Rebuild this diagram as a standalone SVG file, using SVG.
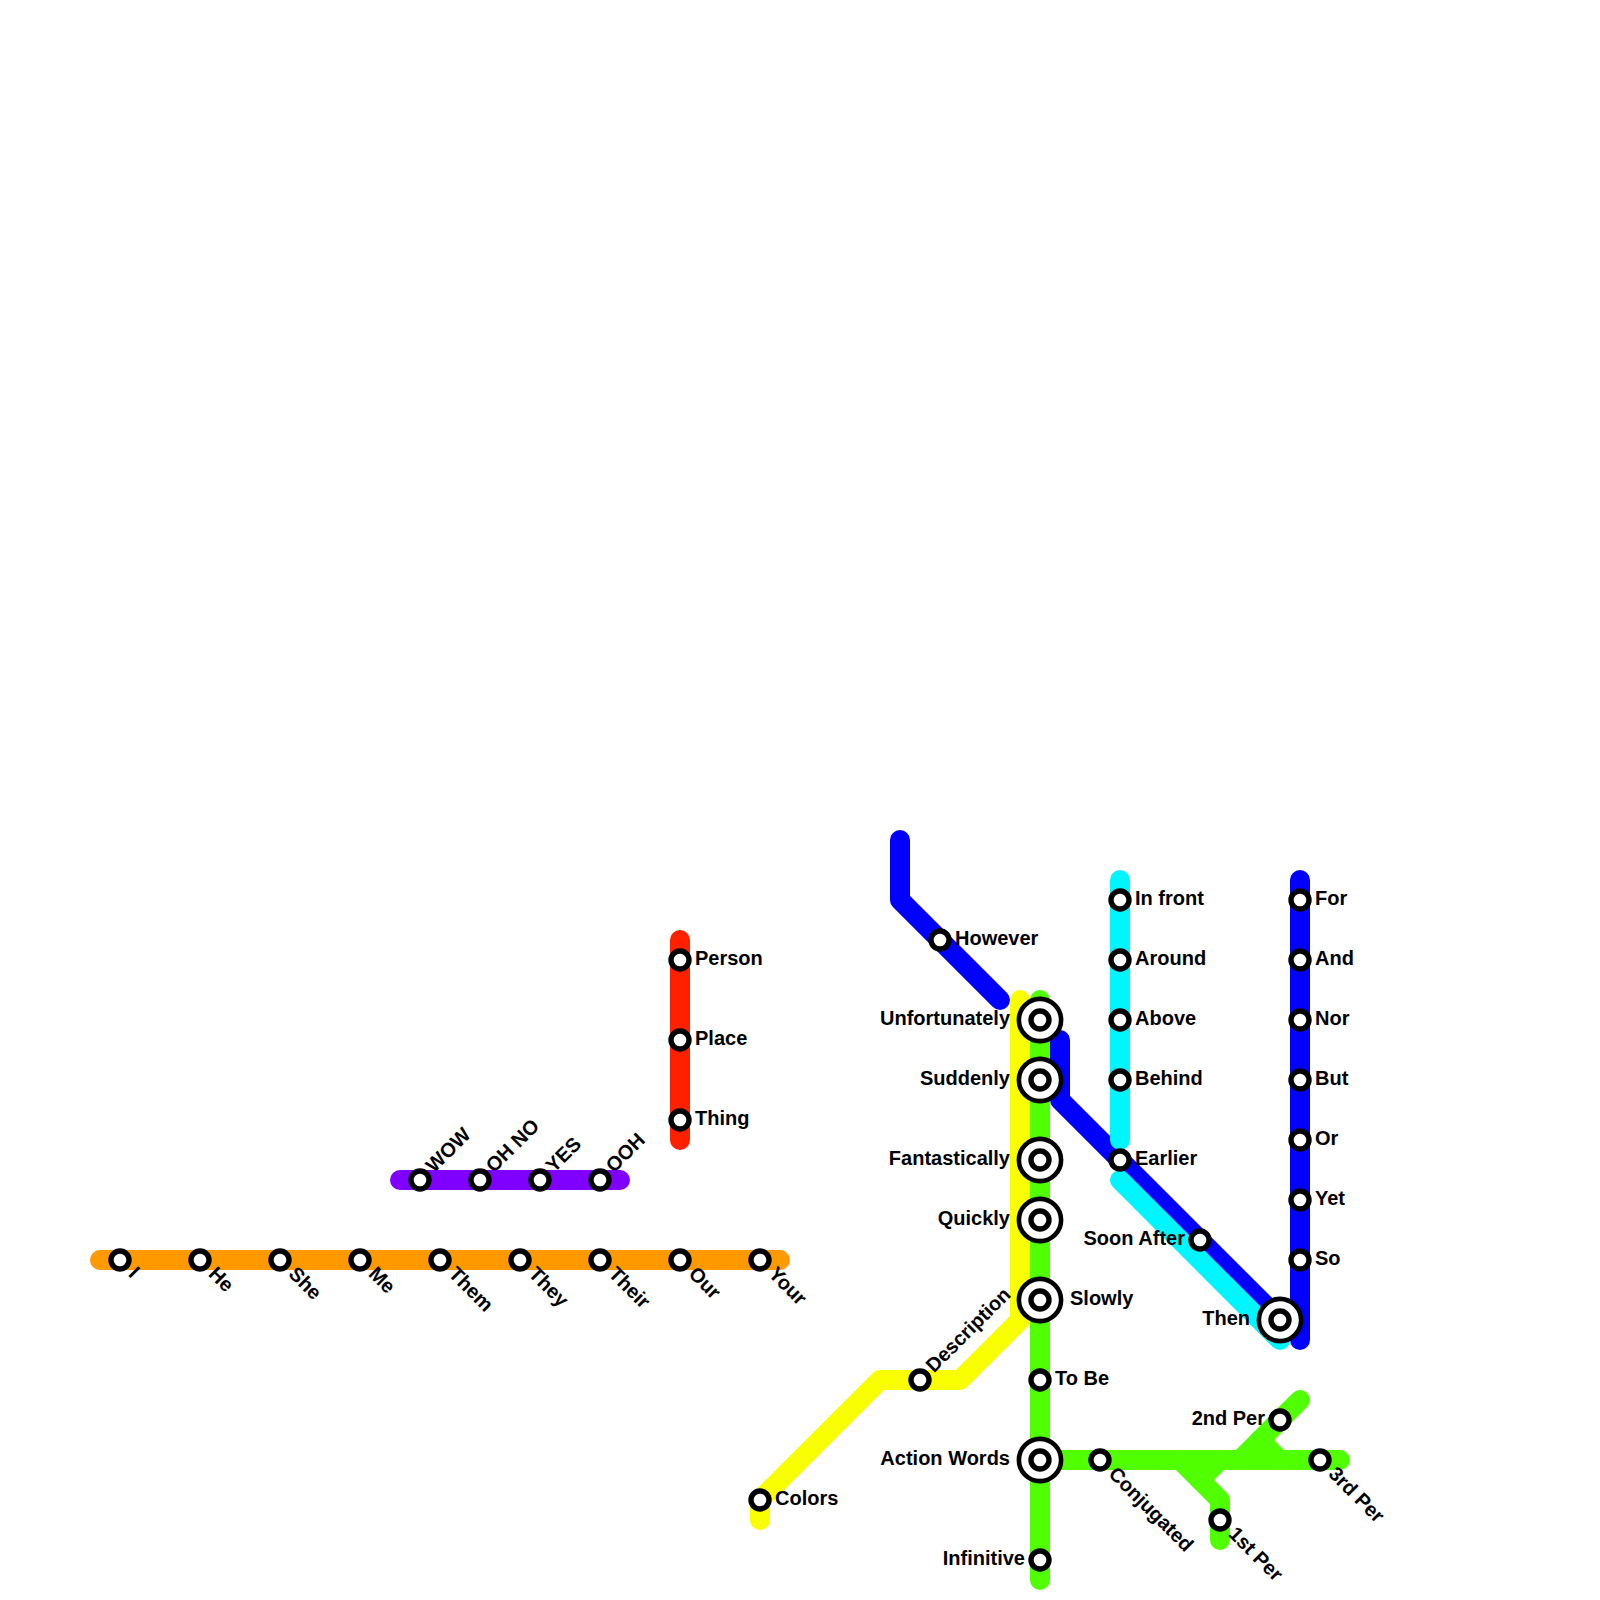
<svg xmlns="http://www.w3.org/2000/svg" width="1600" height="1600" viewBox="0 0 1600 1600">
<style>
.l{fill:none;stroke-width:20;stroke-linecap:round;stroke-linejoin:round}
.o{stroke:#ff9900}.p{stroke:#8000ff}.r{stroke:#ff2000}.b{stroke:#0000ff}.c{stroke:#00f6ff}.g{stroke:#50ff00}.y{stroke:#faff00}
.s{fill:#fff;stroke:#000;stroke-width:5.4}
.q{fill:#fff;stroke:#000;stroke-width:4.6}
.t{font-family:"Liberation Sans",Arial,sans-serif;font-size:20px;font-weight:bold;fill:#000}
.e{text-anchor:end}
</style>
<defs>
<g id="sm"><circle class="s" r="9"/></g>
<g id="bg"><circle class="q" r="21.1"/><circle class="s" r="9"/></g>
</defs>
<g id="connectors">
<path class="l o" d="M100 1260H780"/>
<path class="l p" d="M400 1180H620"/>
<path class="l r" d="M680 940V1140"/>
<path class="l b" d="M900 840V900L1000 1000"/>
<path class="l b" d="M1060 1040V1100L1280 1320"/>
<path class="l b" d="M1300 880V1340"/>
<path class="l c" d="M1120 880V1140"/>
<path class="l c" d="M1120 1180L1280 1340"/>
<path class="l y" d="M1020 1000V1320L960 1380H880L760 1500V1520"/>
<path class="l g" d="M1040 1000V1580"/>
<path class="l g" d="M1040 1460H1340"/>
<path class="l g" d="M1300 1400L1240 1460"/>
<path class="l g" d="M1260 1440L1280 1460"/>
<path class="l g" d="M1180 1460L1220 1500V1540"/>
<path class="l g" d="M1220 1460L1200 1480"/>
</g>
<g id="n-i"><use href="#sm" x="120" y="1260"/><text class="t" transform="translate(131 1271.5) rotate(45) translate(0 5)">I</text></g>
<g id="n-he"><use href="#sm" x="200" y="1260"/><text class="t" transform="translate(211 1271.5) rotate(45) translate(0 5)">He</text></g>
<g id="n-she"><use href="#sm" x="280" y="1260"/><text class="t" transform="translate(291 1271.5) rotate(45) translate(0 5)">She</text></g>
<g id="n-me"><use href="#sm" x="360" y="1260"/><text class="t" transform="translate(371 1271.5) rotate(45) translate(0 5)">Me</text></g>
<g id="n-them"><use href="#sm" x="440" y="1260"/><text class="t" transform="translate(451 1271.5) rotate(45) translate(0 5)">Them</text></g>
<g id="n-they"><use href="#sm" x="520" y="1260"/><text class="t" transform="translate(531 1271.5) rotate(45) translate(0 5)">They</text></g>
<g id="n-their"><use href="#sm" x="600" y="1260"/><text class="t" transform="translate(611 1271.5) rotate(45) translate(0 5)">Their</text></g>
<g id="n-our"><use href="#sm" x="680" y="1260"/><text class="t" transform="translate(691 1271.5) rotate(45) translate(0 5)">Our</text></g>
<g id="n-your"><use href="#sm" x="760" y="1260"/><text class="t" transform="translate(771 1271.5) rotate(45) translate(0 5)">Your</text></g>
<g id="n-wow"><use href="#sm" x="420" y="1180"/><text class="t" transform="translate(430.5 1170) rotate(-45) translate(0 5)">WOW</text></g>
<g id="n-ohno"><use href="#sm" x="480" y="1180"/><text class="t" transform="translate(490.5 1170) rotate(-45) translate(0 5)">OH NO</text></g>
<g id="n-yes"><use href="#sm" x="540" y="1180"/><text class="t" transform="translate(550.5 1170) rotate(-45) translate(0 5)">YES</text></g>
<g id="n-ooh"><use href="#sm" x="600" y="1180"/><text class="t" transform="translate(610.5 1170) rotate(-45) translate(0 5)">OOH</text></g>
<g id="n-person"><use href="#sm" x="680" y="960"/><text class="t" x="695" y="965">Person</text></g>
<g id="n-place"><use href="#sm" x="680" y="1040"/><text class="t" x="695" y="1045">Place</text></g>
<g id="n-thing"><use href="#sm" x="680" y="1120"/><text class="t" x="695" y="1125">Thing</text></g>
<g id="n-however"><use href="#sm" x="940" y="940"/><text class="t" x="955" y="945">However</text></g>
<g id="n-infront"><use href="#sm" x="1120" y="900"/><text class="t" x="1135" y="905">In front</text></g>
<g id="n-around"><use href="#sm" x="1120" y="960"/><text class="t" x="1135" y="965">Around</text></g>
<g id="n-above"><use href="#sm" x="1120" y="1020"/><text class="t" x="1135" y="1025">Above</text></g>
<g id="n-behind"><use href="#sm" x="1120" y="1080"/><text class="t" x="1135" y="1085">Behind</text></g>
<g id="n-earlier"><use href="#sm" x="1120" y="1160"/><text class="t" x="1135" y="1165">Earlier</text></g>
<g id="n-soonafter"><use href="#sm" x="1200" y="1240"/><text class="t e" x="1185" y="1245">Soon After</text></g>
<g id="n-for"><use href="#sm" x="1300" y="900"/><text class="t" x="1315" y="905">For</text></g>
<g id="n-and"><use href="#sm" x="1300" y="960"/><text class="t" x="1315" y="965">And</text></g>
<g id="n-nor"><use href="#sm" x="1300" y="1020"/><text class="t" x="1315" y="1025">Nor</text></g>
<g id="n-but"><use href="#sm" x="1300" y="1080"/><text class="t" x="1315" y="1085">But</text></g>
<g id="n-or"><use href="#sm" x="1300" y="1140"/><text class="t" x="1315" y="1145">Or</text></g>
<g id="n-yet"><use href="#sm" x="1300" y="1200"/><text class="t" x="1315" y="1205">Yet</text></g>
<g id="n-so"><use href="#sm" x="1300" y="1260"/><text class="t" x="1315" y="1265">So</text></g>
<g id="n-then"><use href="#bg" x="1280" y="1320"/><text class="t e" x="1250" y="1325">Then</text></g>
<g id="n-unfortunately"><use href="#bg" x="1040" y="1020"/><text class="t e" x="1010" y="1025">Unfortunately</text></g>
<g id="n-suddenly"><use href="#bg" x="1040" y="1080"/><text class="t e" x="1010" y="1085">Suddenly</text></g>
<g id="n-fantastically"><use href="#bg" x="1040" y="1160"/><text class="t e" x="1010" y="1165">Fantastically</text></g>
<g id="n-quickly"><use href="#bg" x="1040" y="1220"/><text class="t e" x="1010" y="1225">Quickly</text></g>
<g id="n-slowly"><use href="#bg" x="1040" y="1300"/><text class="t" x="1070" y="1305">Slowly</text></g>
<g id="n-tobe"><use href="#sm" x="1040" y="1380"/><text class="t" x="1055" y="1385">To Be</text></g>
<g id="n-actionwords"><use href="#bg" x="1040" y="1460"/><text class="t e" x="1010" y="1465">Action Words</text></g>
<g id="n-infinitive"><use href="#sm" x="1040" y="1560"/><text class="t e" x="1025" y="1565">Infinitive</text></g>
<g id="n-description"><use href="#sm" x="920" y="1380"/><text class="t" transform="translate(930.5 1370) rotate(-45) translate(0 5)">Description</text></g>
<g id="n-colors"><use href="#sm" x="760" y="1500"/><text class="t" x="775" y="1505">Colors</text></g>
<g id="n-conjugated"><use href="#sm" x="1100" y="1460"/><text class="t" transform="translate(1111 1471.5) rotate(45) translate(0 5)">Conjugated</text></g>
<g id="n-1stper"><use href="#sm" x="1220" y="1520"/><text class="t" transform="translate(1231 1531.5) rotate(45) translate(0 5)">1st Per</text></g>
<g id="n-2ndper"><use href="#sm" x="1280" y="1420"/><text class="t e" x="1265" y="1425">2nd Per</text></g>
<g id="n-3rdper"><use href="#sm" x="1320" y="1460"/><text class="t" transform="translate(1331 1471.5) rotate(45) translate(0 5)">3rd Per</text></g>
</svg>
